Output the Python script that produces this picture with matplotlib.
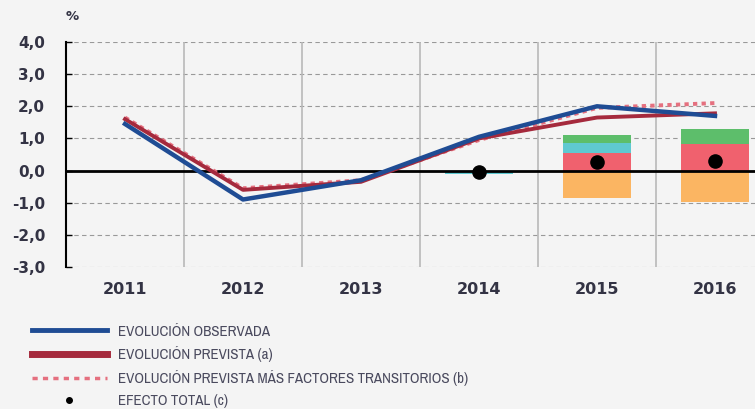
import numpy as np
import matplotlib
matplotlib.use('Agg')
import matplotlib.pyplot as plt
from matplotlib.lines import Line2D

years = ['2011', '2012', '2013', '2014', '2015', '2016']
observada = [1.45, -0.9, -0.3, 1.05, 2.0, 1.7]
prevista = [1.6, -0.6, -0.35, 1.0, 1.65, 1.78]
prevista_trans = [1.65, -0.55, -0.3, 0.95, 1.95, 2.1]

# contributions (bars) for 2014-2016
bar_years = [3, 4, 5]
red_part = [0.0, 0.56, 0.83]
cyan_part = [-0.12, 0.29, 0.0]
green_part = [0.0, 0.27, 0.45]
orange_part = [0.0, -0.84, -0.99]
efecto_total = [-0.06, 0.28, 0.31]

bg = '#f4f4f4'
fig = plt.figure(figsize=(7.55, 4.09), dpi=100, facecolor=bg)
ax = fig.add_axes([66/755, 1-267/409, 708/755, 225/409], facecolor=bg)

x = np.arange(len(years))
bx = np.array(bar_years)
w = 0.58
ax.bar(bx, red_part, w, color='#f0616e', zorder=2)
cyan_bottom = [r if c >= 0 else 0 for r, c in zip(red_part, cyan_part)]
ax.bar(bx, cyan_part, w, bottom=cyan_bottom, color='#5fc9d1', zorder=2)
green_bottom = [r + max(c, 0) for r, c in zip(red_part, cyan_part)]
ax.bar(bx, green_part, w, bottom=green_bottom, color='#5dbe6b', zorder=2)
ax.bar(bx, orange_part, w, color='#fbb562', zorder=2)

ax.axhline(0, color='black', lw=2, zorder=3)

ax.plot(x, prevista_trans, color='#e5707f', lw=2.8, ls=(0, (1.1, 1.1)), zorder=4)
ax.plot(x, prevista, color='#a52a3d', lw=2.8, zorder=5)
ax.plot(x, observada, color='#1f4c94', lw=3.2, zorder=6)
ax.scatter(bx, efecto_total, s=90, color='black', zorder=7)

ax.set_xlim(-0.5, 5.5)
ax.set_ylim(-3, 4)
ax.set_yticks(np.arange(-3, 5, 1))
ax.set_yticklabels([f'{v:.1f}'.replace('.', ',') for v in np.arange(-3, 5, 1)])
ax.set_xticks(x)
ax.set_xticklabels(years)
for v in np.arange(-3, 5, 1):
    if v != 0:
        ax.axhline(v, color='#999999', lw=0.8, ls=(0, (4, 3)), zorder=1)
for b in np.arange(0.5, 5.5, 1):
    ax.axvline(b, color='#b8b8b8', lw=1.2, zorder=1)

for s in ['top', 'right', 'bottom']:
    ax.spines[s].set_visible(False)
ax.spines['left'].set_linewidth(1.5)
ax.tick_params(axis='y', direction='in', length=4, width=1, pad=15,
               labelsize=11, labelcolor='#333344')
ax.tick_params(axis='x', length=0, pad=11, labelsize=11.5, labelcolor='#333344')
for lab in ax.get_xticklabels() + ax.get_yticklabels():
    lab.set_fontweight('bold')

fig.text(66/755, 1-17/409, '%', fontsize=9.5, color='#333344',
         ha='left', va='center', fontweight='bold')

handles = [
    Line2D([], [], color='#1f4c94', lw=3.5),
    Line2D([], [], color='#a52a3d', lw=5),
    Line2D([], [], color='#e5707f', lw=2.5, ls=(0, (1.5, 1.5))),
    Line2D([], [], color='black', marker='o', ls='none', markersize=4),
]
labels = ['EVOLUCIÓN OBSERVADA', 'EVOLUCIÓN PREVISTA (a)',
          'EVOLUCIÓN PREVISTA MÁS FACTORES TRANSITORIOS (b)', 'EFECTO TOTAL (c)']
leg = fig.legend(handles, labels, loc='upper left', bbox_to_anchor=(24/755, 1-317/409),
                 frameon=False, handlelength=5.0, labelspacing=0.52,
                 prop={'family': ['Archivo Narrow', 'DejaVu Sans'], 'size': 10.8},
                 handletextpad=0.8, borderpad=0)
for t in leg.get_texts():
    t.set_color('#4a4a5e')

fig.savefig('out.png', dpi=100, facecolor=bg)
